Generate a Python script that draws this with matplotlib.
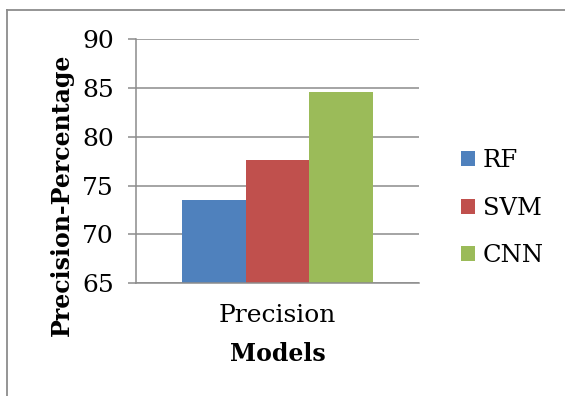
import matplotlib.pyplot as plt
from matplotlib.lines import Line2D

# Precision of each model (%)
models = ['RF', 'SVM', 'CNN']
precision = [73.5, 77.6, 84.6]
colors = ['#4F81BD', '#C0504D', '#9BBB59']
category = 'Precision'
yticks = [65, 70, 75, 80, 85, 90]

plt.rcParams['font.family'] = 'DejaVu Serif'
grey = '#8c8c8c'

fig = plt.figure(figsize=(5.65, 3.96), dpi=100)
ax = fig.add_axes([0.2407, 0.2846, 0.5009, 0.6169])

# Grouped bars for the single category
width = 0.224
n = len(models)
for i, (name, val, c) in enumerate(zip(models, precision, colors)):
    offset = (i - (n - 1) / 2) * width
    ax.bar(offset, val, width=width, color=c, label=name, zorder=3)

ax.set_xlim(-0.5, 0.5)
ax.set_ylim(yticks[0], yticks[-1])
ax.set_yticks(yticks)
ax.set_xticks([0])
ax.set_xticklabels([category])

ax.yaxis.grid(True, color=grey, linewidth=1.1, zorder=0)
for s in ['top', 'right']:
    ax.spines[s].set_visible(False)
for s in ['left', 'bottom']:
    ax.spines[s].set_color(grey)
    ax.spines[s].set_linewidth(1.1)
ax.spines['bottom'].set_zorder(4)

ax.tick_params(axis='y', length=6, width=1.1, color=grey, labelsize=18, pad=10)
ax.tick_params(axis='x', length=0, labelsize=18, pad=15)

# y title sits a bit lower than the plot centre
ax.set_ylabel('Precision-Percentage', fontsize=17, fontweight='bold', va='center')
ax.yaxis.set_label_coords(-0.262, 0.3615)
ax.set_xlabel('Models', fontsize=17, fontweight='bold', labelpad=11)

ax.legend(loc='center left', bbox_to_anchor=(0.795, 0.474),
          bbox_transform=fig.transFigure, frameon=False, fontsize=17.5,
          handlelength=0.58, handleheight=0.58, handletextpad=0.3,
          labelspacing=1.0, borderpad=0)

# Outer chart border (left and top edges)
fig.add_artist(Line2D([7 / 565, 7 / 565], [0, 1 - 10 / 396],
                      transform=fig.transFigure, color=grey, linewidth=1.3))
fig.add_artist(Line2D([7 / 565, 1], [1 - 10 / 396, 1 - 10 / 396],
                      transform=fig.transFigure, color=grey, linewidth=1.3))

fig.savefig('out.png', dpi=100)
